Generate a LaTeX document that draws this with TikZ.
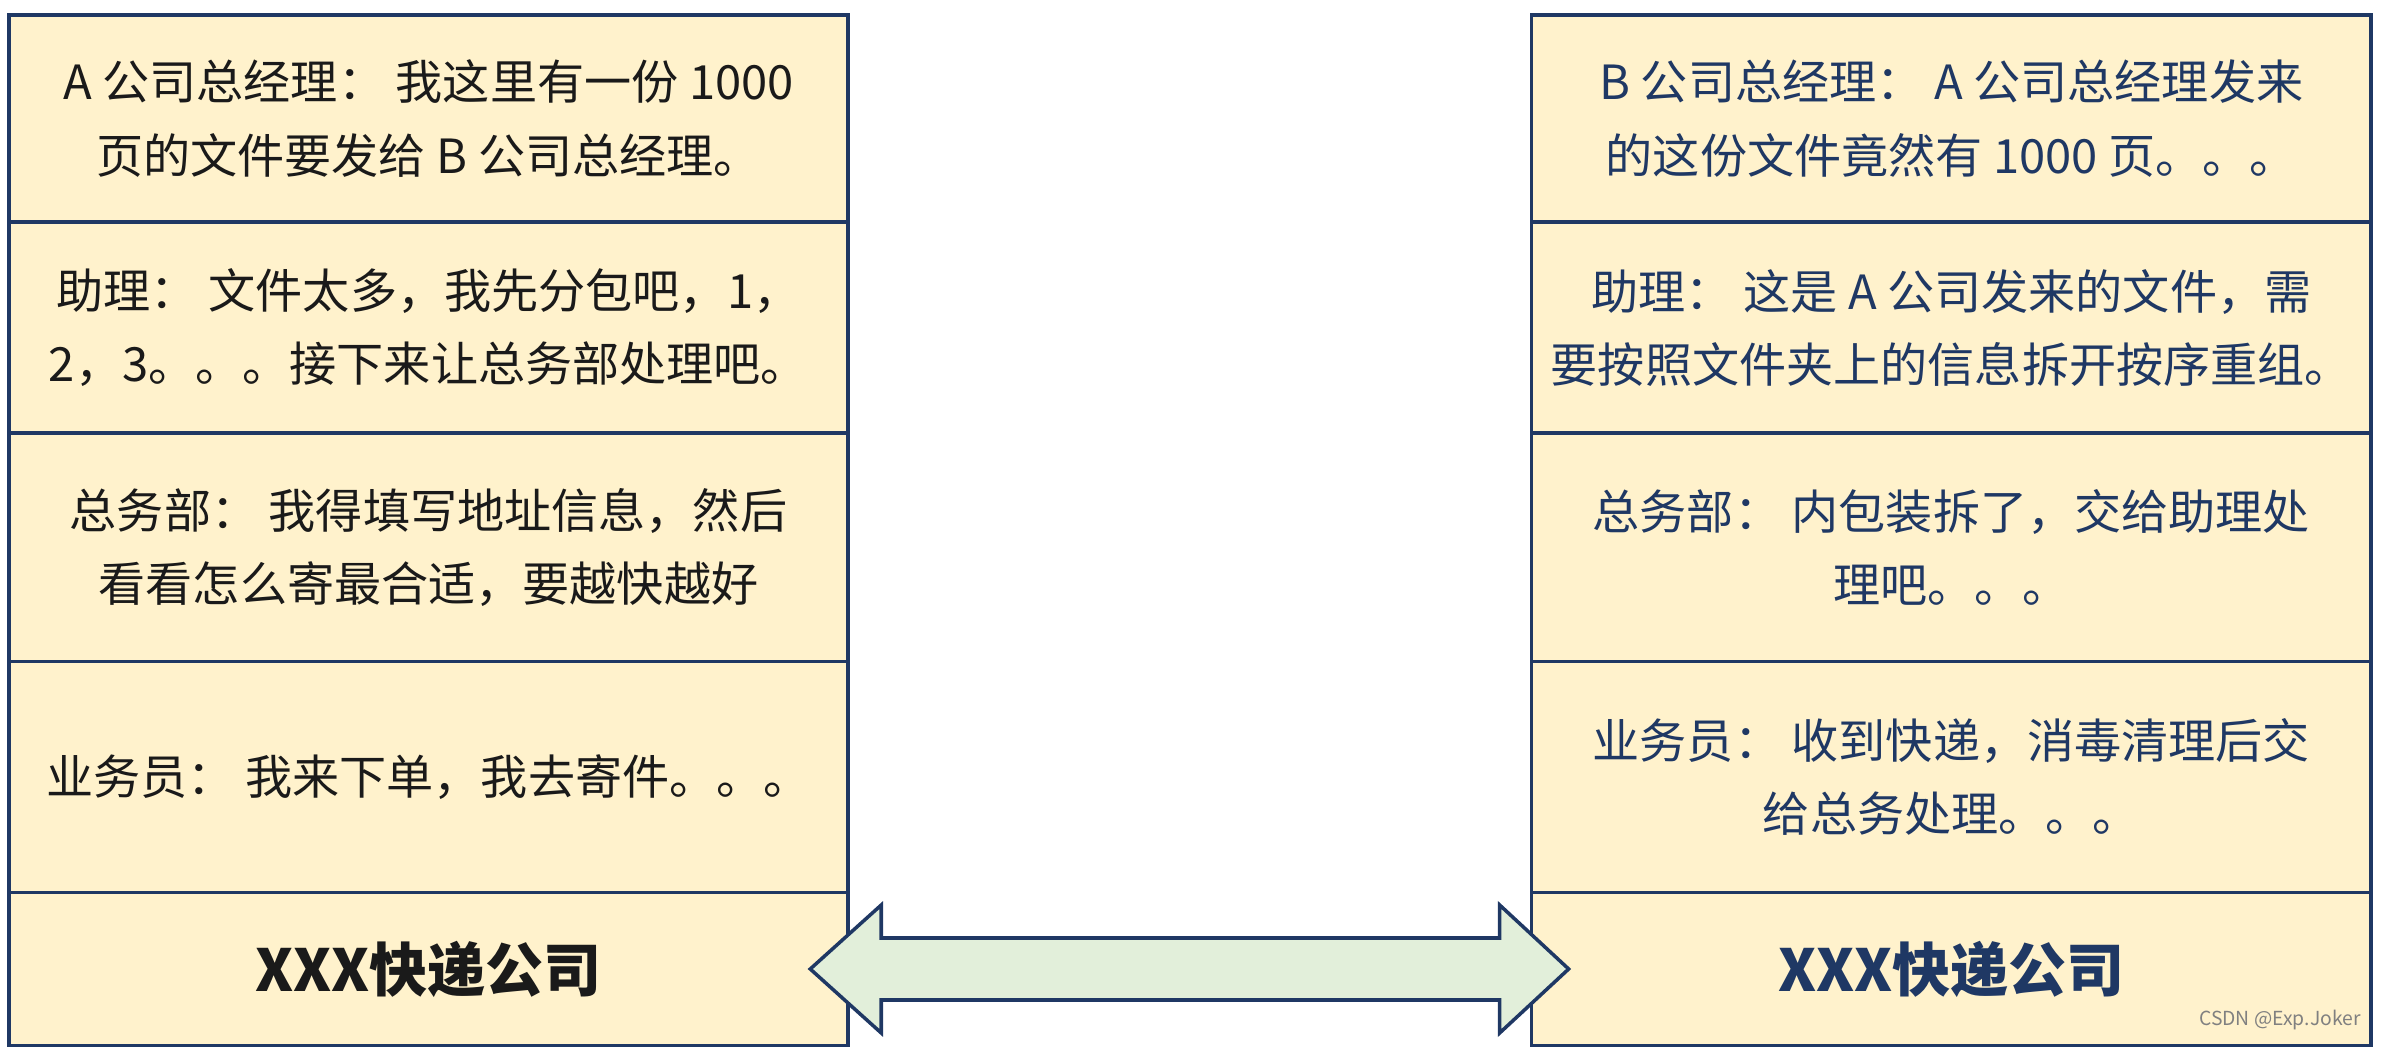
\documentclass[tikz,border=0pt]{standalone}
\usepackage{fontspec}
\setmainfont{Noto Sans CJK SC}
\usetikzlibrary{positioning,calc}
\definecolor{boxfill}{HTML}{FFF2CC}
\definecolor{navy}{HTML}{1F3864}
\definecolor{linkfill}{HTML}{E2EFDA}
\definecolor{ink}{HTML}{1A1A1A}
\tikzset{
  box/.style={rectangle, draw=navy, line width=1pt, fill=boxfill,
    minimum width=8.39cm, inner sep=0pt, outer sep=0pt, align=center,
    font=\fontsize{13.4pt}{20.8pt}\selectfont},
  send/.style={text=ink},
  recv/.style={text=navy},
  firm/.style={font=\fontsize{16.5pt}{20pt}\selectfont\bfseries},
  link/.style={draw=navy, line width=1pt, fill=linkfill, line join=miter}
}
\begin{document}
\begin{tikzpicture}[x=0.01cm,y=-0.01cm]
      \useasboundingbox (0,0) rectangle (2382,1055);
      \node[box, send, minimum height=2.07cm] (a1) at (428.5,118.5)
        {A 公司总经理： 我这里有一份 1000\\页的文件要发给 B 公司总经理。};
      \node[box, send, minimum height=2.11cm, below=0pt of a1] (a2)
        {助理： 文件太多，我先分包吧，1，\\2，3。。。接下来让总务部处理吧。};
      \node[box, send, minimum height=2.28cm, below=0pt of a2] (a3)
        {总务部： 我得填写地址信息，然后\\看看怎么寄最合适，要越快越好};
      \node[box, send, minimum height=2.31cm, below=0pt of a3] (a4)
        {业务员： 我来下单，我去寄件。。。};
      \node[box, send, firm, minimum height=1.53cm, below=0pt of a4] (a5)
        {XXX快递公司};
      \node[box, recv, minimum height=2.07cm, right=6.83cm of a1] (b1)
        {B 公司总经理： A 公司总经理发来\\的这份文件竟然有 1000 页。。。};
      \node[box, recv, minimum height=2.11cm, below=0pt of b1] (b2)
        {助理： 这是 A 公司发来的文件，需\\要按照文件夹上的信息拆开按序重组。};
      \node[box, recv, minimum height=2.28cm, below=0pt of b2] (b3)
        {总务部： 内包装拆了，交给助理处\\理吧。。。};
      \node[box, recv, minimum height=2.31cm, below=0pt of b3] (b4)
        {业务员： 收到快递，消毒清理后交\\给总务处理。。。};
      \node[box, recv, firm, minimum height=1.53cm, below=0pt of b4] (b5)
        {XXX快递公司};
      \coordinate (lt) at ($(a5.east)+(-38,0)$);
      \coordinate (rt) at ($(b5.west)+(37,0)$);
      \draw[link] (lt) -- ++(71,-64) -- ++(0,33) -- ($(rt)+(-69,-31)$)
        -- ++(0,-33) -- (rt) -- ++(-69,64) -- ++(0,-33)
        -- ($(lt)+(71,31)$) -- ++(0,33) -- cycle;
      \node[anchor=south east, text=gray, font=\fontsize{5.5pt}{6pt}\selectfont]
        (wm) at (2373,1042) {CSDN @Exp.Joker};
    \end{tikzpicture}
\end{document}
